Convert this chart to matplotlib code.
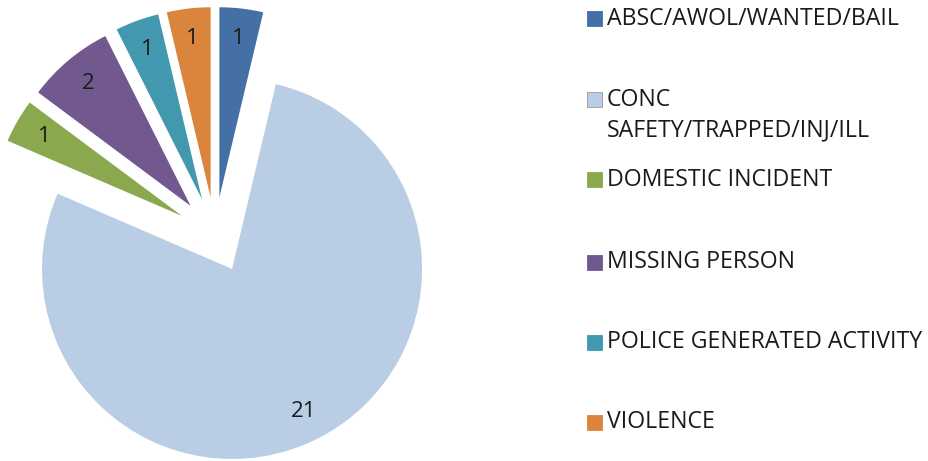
import matplotlib
matplotlib.use('Agg')
import matplotlib.pyplot as plt
from matplotlib.patches import Rectangle

plt.rcParams['font.family'] = ['Open Sans', 'DejaVu Sans']

# data
categories = ['ABSC/AWOL/WANTED/BAIL', 'CONC\nSAFETY/TRAPPED/INJ/ILL', 'DOMESTIC INCIDENT',
              'MISSING PERSON', 'POLICE GENERATED ACTIVITY', 'VIOLENCE']
counts = [1, 21, 1, 2, 1, 1]
colors = ['#4470A6', '#B9CDE5', '#8AA84E', '#71588F', '#4198AF', '#DB843D']

W, H = 929, 461
fig = plt.figure(figsize=(W / 100, H / 100), dpi=100)

# pie centre at (215, 235) px from top-left, radius 190 px
cx, cy, r_px = 215, 235, 190
lim = 1.25
half = lim * r_px
ax = fig.add_axes([(cx - half) / W, (H - cy - half) / H, 2 * half / W, 2 * half / H])
wedges, texts = ax.pie(counts, colors=colors, startangle=90, counterclock=False,
                       explode=[0.2] * len(counts), labels=[str(c) for c in counts],
                       labeldistance=0.84, radius=1.0,
                       textprops=dict(fontsize=16, color='#1a1a1a', ha='center', va='center'))
for w in wedges:
    w.set_linewidth(0)
ax.set_xlim(-lim, lim)
ax.set_ylim(-lim, lim)
ax.set_aspect('auto')
ax.axis('off')

# legend drawn by hand
row_y = [19, 100, 180, 262, 342, 422]
line_gap = 30
for lab, col, y in zip(categories, colors, row_y):
    fig.patches.append(Rectangle((587 / W, (H - y - 7.5) / H), 15 / W, 15 / H,
                                 transform=fig.transFigure, facecolor=col,
                                 edgecolor='#9a9a9a' if col == '#B9CDE5' else col, linewidth=0.6))
    for i, line in enumerate(lab.split('\n')):
        fig.text(607 / W, (H - y - i * line_gap) / H, line, fontsize=16.7, color='#1a1a1a',
                 ha='left', va='center')

fig.savefig('out.png', dpi=100)
